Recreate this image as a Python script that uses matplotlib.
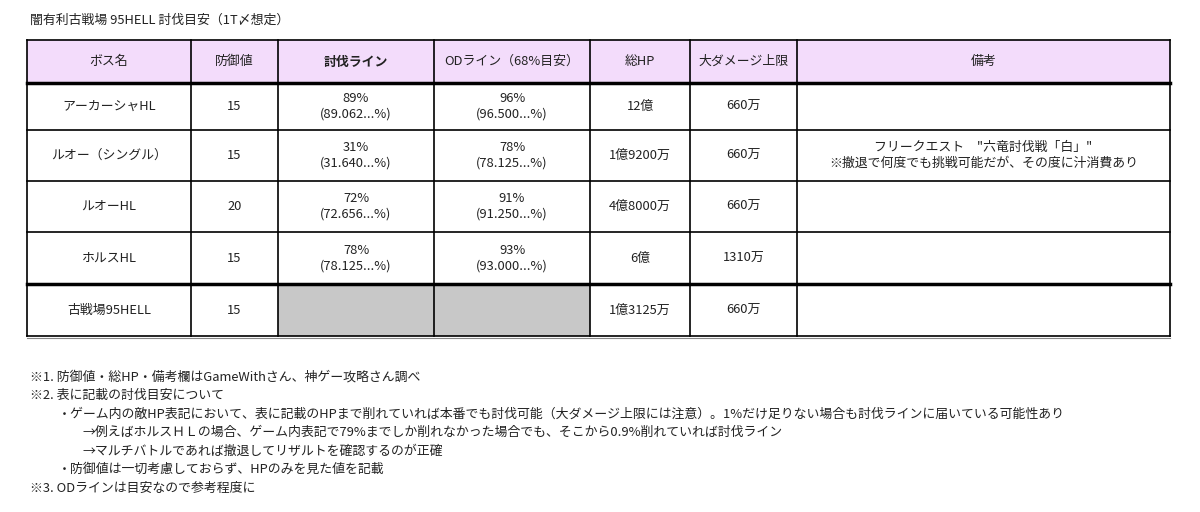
import matplotlib
matplotlib.use("Agg")
import matplotlib.pyplot as plt
from matplotlib.patches import Rectangle

plt.rcParams['font.family'] = ['Noto Sans CJK JP', 'DejaVu Sans']

title = "闇有利古戦場 95HELL 討伐目安（1T〆想定）"
headers = ["ボス名", "防御値", "討伐ライン", "ODライン（68%目安）", "総HP", "大ダメージ上限", "備考"]
bosses = ["アーカーシャHL", "ルオー（シングル）", "ルオーHL", "ホルスHL", "古戦場95HELL"]
defense = ["15", "15", "20", "15", "15"]
kill_line = ["89%\n(89.062...%)", "31%\n(31.640...%)", "72%\n(72.656...%)", "78%\n(78.125...%)", None]
od_line = ["96%\n(96.500...%)", "78%\n(78.125...%)", "91%\n(91.250...%)", "93%\n(93.000...%)", None]
total_hp = ["12億", "1億9200万", "4億8000万", "6億", "1億3125万"]
dmg_cap = ["660万", "660万", "660万", "1310万", "660万"]
notes = ["", "フリークエスト　\"六竜討伐戦「白」\"\n※撤退で何度でも挑戦可能だが、その度に汁消費あり", "", "", ""]
footnotes = [
    (0, "※1. 防御値・総HP・備考欄はGameWithさん、神ゲー攻略さん調べ"),
    (0, "※2. 表に記載の討伐目安について"),
    (1, "・ゲーム内の敵HP表記において、表に記載のHPまで削れていれば本番でも討伐可能（大ダメージ上限には注意）。1%だけ足りない場合も討伐ラインに届いている可能性あり"),
    (2, "→例えばホルスＨＬの場合、ゲーム内表記で79%までしか削れなかった場合でも、そこから0.9%削れていれば討伐ライン"),
    (2, "→マルチバトルであれば撤退してリザルトを確認するのが正確"),
    (1, "・防御値は一切考慮しておらず、HPのみを見た値を記載"),
    (0, "※3. ODラインは目安なので参考程度に"),
]

col_x = [27, 191, 278, 434, 590, 690, 797, 1170]
row_y = [40, 83, 130, 181, 232, 284, 336]
fs = 9.3

fig = plt.figure(figsize=(12, 5.12), dpi=100)
ax = fig.add_axes([0, 0, 1, 1])
ax.set_xlim(0, 1200)
ax.set_ylim(512, 0)
ax.axis('off')

ax.text(30, 20, title, fontsize=fs, va='center', ha='left', color='#222222')

# header background
ax.add_patch(Rectangle((col_x[0], row_y[0]), col_x[-1] - col_x[0], row_y[1] - row_y[0],
                       facecolor='#f3dcfb', edgecolor='none'))
# grey cells in last row
for c in (2, 3):
    ax.add_patch(Rectangle((col_x[c], row_y[5]), col_x[c + 1] - col_x[c], row_y[6] - row_y[5],
                           facecolor='#c8c8c8', edgecolor='none'))

for i, h in enumerate(headers):
    cx = (col_x[i] + col_x[i + 1]) / 2
    ax.text(cx, (row_y[0] + row_y[1]) / 2, h, fontsize=fs, ha='center', va='center',
            color='#222222', fontweight='bold' if i == 2 else 'normal')

columns = [bosses, defense, kill_line, od_line, total_hp, dmg_cap, notes]
for r in range(len(bosses)):
    cy = (row_y[r + 1] + row_y[r + 2]) / 2
    for c, col in enumerate(columns):
        val = col[r]
        if not val:
            continue
        cx = (col_x[c] + col_x[c + 1]) / 2
        ax.text(cx, cy, val, fontsize=fs, ha='center', va='center', color='#222222',
                linespacing=1.25)

# grid lines
for x in col_x:
    ax.plot([x, x], [row_y[0], row_y[-1]], color='black', lw=1.2)
for j, y in enumerate(row_y):
    lw = 2.5 if j in (1, 5) else 1.2
    ax.plot([col_x[0], col_x[-1]], [y, y], color='black', lw=lw)
ax.plot([col_x[0], col_x[-1]], [row_y[-1] + 2, row_y[-1] + 2], color='#888888', lw=0.8)

indent = [30, 58, 82]
for k, (lvl, txt) in enumerate(footnotes):
    ax.text(indent[lvl], 377 + k * 18.5, txt, fontsize=fs, ha='left', va='center', color='#222222')

fig.savefig("out.png", dpi=100, facecolor='white')
